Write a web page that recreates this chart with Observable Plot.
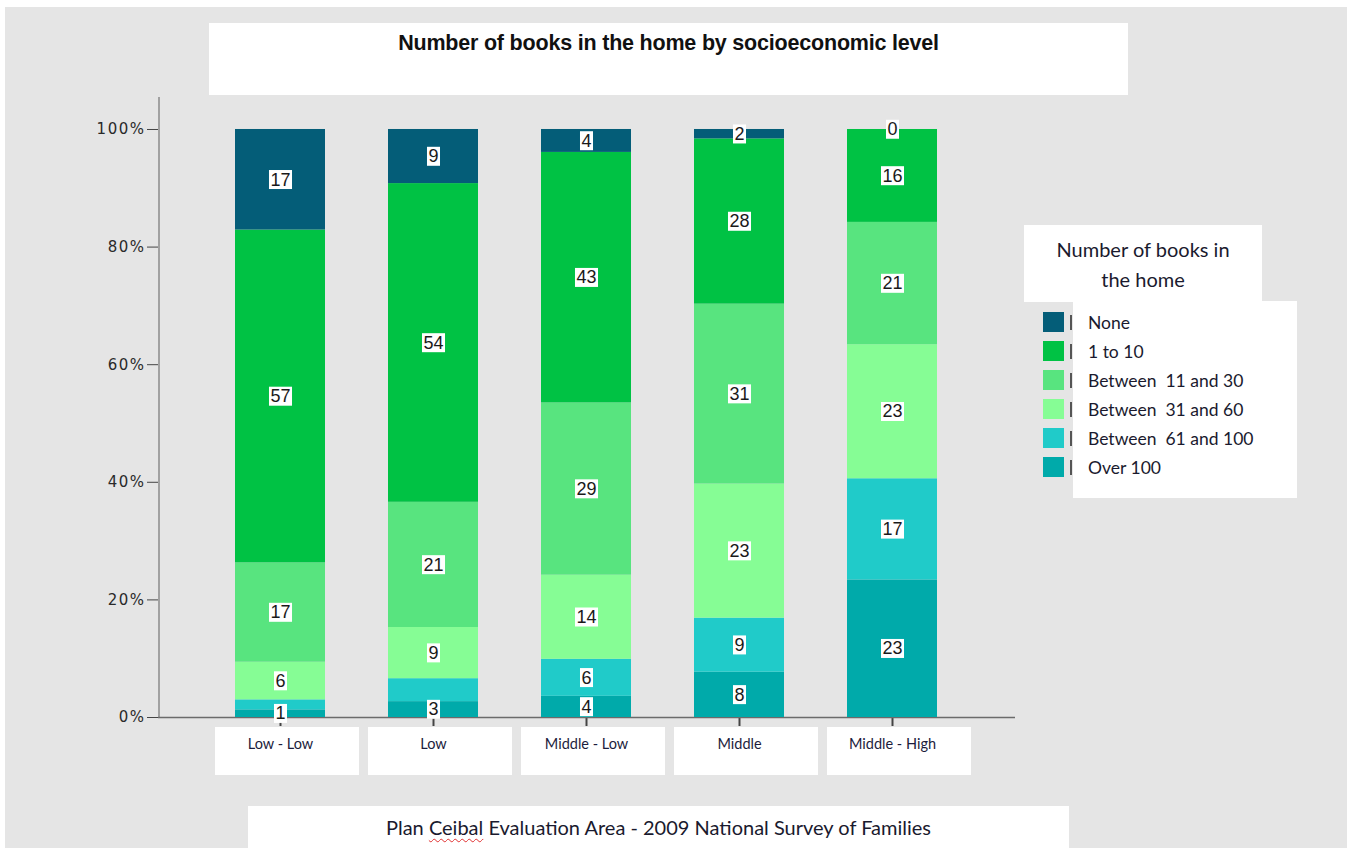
<!DOCTYPE html>
<html><head><meta charset="utf-8">
<script src="https://cdn.jsdelivr.net/npm/d3@7"></script>
<script src="https://cdn.jsdelivr.net/npm/@observablehq/plot@0.6"></script>
<style>
body{margin:0;background:#fff;width:1347px;height:848px;overflow:hidden;position:relative;font-family:Lato,sans-serif}
#bg{position:absolute;left:5px;top:7px;right:0;bottom:0;background:#e5e5e5}
#chart{position:absolute;left:0;top:0}
.box{position:absolute;background:#fff}
#title{left:209px;top:23px;width:919px;height:72px}
#title div{position:absolute;left:0;right:0;top:20px;transform:translateY(-50%);text-align:center;font-weight:bold;font-size:21.5px;font-family:"Liberation Sans",Arial,sans-serif;color:#111;letter-spacing:-0.2px}
#legTitle{left:1024px;top:225px;width:238px;height:77px;text-align:center;font-size:20px;line-height:30px;padding-top:9px;box-sizing:border-box;color:#1a1a2e}
#legItems{left:1073px;top:301px;width:224px;height:197px;padding-top:7px;padding-left:15px;box-sizing:border-box;font-size:17.5px;line-height:29px;color:#1a1a2e;white-space:pre}
.sw{position:absolute;left:1043px;width:21px;height:20px}
.bar{position:absolute;left:1070px;width:2px;height:15px;background:#555}
#caption{left:248px;top:806px;width:821px;height:42px;text-align:center;font-size:20px;line-height:42px;color:#1a1a2e;box-sizing:border-box}
.sq{text-decoration:underline wavy #e03030;text-decoration-thickness:1px;text-underline-offset:3px}
[aria-label="y-axis tick label"]{letter-spacing:1.5px}
</style></head><body>
<div id="bg"></div>
<div id="chart"></div>
<div class="box" id="title"><div>Number of books in the home by socioeconomic level</div></div>
<div class="box" id="legTitle">Number of books in<br>the home</div>
<div class="box" id="legItems"></div>
<div class="box" id="caption">Plan <span class="sq">Ceibal</span> Evaluation Area - 2009 National Survey of Families</div>
<script>
// Categories (socioeconomic level)
const levels = ["Low - Low", "Low", "Middle - Low", "Middle", "Middle - High"];
// Series (number of books in the home), legend order top to bottom
const series = ["None", "1 to 10", "Between  11 and 30", "Between  31 and 60", "Between  61 and 100", "Over 100"];
const colors = ["#045d78", "#00c244", "#58e47f", "#86fd95", "#20cbc9", "#00aaaa"];
// Percentages per level
const none      = [17.1,  9.2,  3.9,  1.6,  0.0];
const oneTo10   = [56.6, 54.2, 42.6, 28.1, 15.8];
const b11to30   = [16.9, 21.3, 29.3, 30.6, 20.8];
const b31to60   = [ 6.4,  8.7, 14.3, 22.8, 22.8];
const b61to100  = [ 1.7,  3.9,  6.3,  9.2, 17.2];
const over100   = [ 1.3,  2.7,  3.6,  7.7, 23.4];
const yTicks = [0, 0.2, 0.4, 0.6, 0.8, 1];

const seriesValues = [none, oneTo10, b11to30, b31to60, b61to100, over100];

// stack from bottom (Over 100) to top (None), normalised to 100%
const rows = [];
const labels = [];
levels.forEach((level, i) => {
  const total = d3.sum(seriesValues, s => s[i]);
  let cum = 0, lastMid = -Infinity;
  for (let k = series.length - 1; k >= 0; k--) {
    const v = seriesValues[k][i] / total;
    const r = {level, series: series[k], value: seriesValues[k][i], y1: cum, y2: cum + v, mid: cum + v / 2};
    rows.push(r);
    if (r.mid - lastMid >= 0.04) { labels.push(r); lastMid = r.mid; }
    cum += v;
  }
});

const chart = Plot.plot({
  width: 1347, height: 848,
  marginLeft: 158, marginRight: 332, marginTop: 97, marginBottom: 131,
  style: {background: "transparent", overflow: "visible"},
  x: {domain: levels, paddingInner: 0.41, paddingOuter: 0.4875},
  y: {domain: [0, 1.0544]},
  color: {domain: series, range: colors},
  marks: [
    Plot.barY(levels, {x: d => d, y1: -0.017, y2: -0.0986, fill: "white", insetLeft: -20, insetRight: -34}),
    Plot.axisX({tickSize: 9, tickFormat: () => "", stroke: "#444", strokeWidth: 2, label: null}),
    Plot.axisY({ticks: yTicks, tickFormat: d3.format(".0%"), tickSize: 11, tickPadding: 2, stroke: "#444", fill: "#2a2a2a",
      fontSize: 15, fontFamily: "DejaVu Sans", label: null}),
    Plot.ruleX([levels[0]], {x: d => d, dx: -121.5, y1: 0, y2: 1.0544, stroke: "#8a8a8a", strokeWidth: 1.5}),
    Plot.ruleY([0], {stroke: "#6b6b6b", strokeWidth: 1.5}),
    Plot.barY(rows, {x: "level", y1: "y1", y2: "y2", fill: "series"}),
    Plot.text(labels, {x: "level", y: "mid", text: d => String(Math.round(d.value)), fontSize: 18,
      fontFamily: "Liberation Sans", fill: "#1a1a1a"}),
    Plot.text(levels, {x: d => d, frameAnchor: "bottom", dy: 31, fontSize: 14.5, fontFamily: "Lato", fill: "#1c1c3c"})
  ]
});
document.getElementById("chart").append(chart);

// white boxes behind the value labels
chart.querySelectorAll('g[aria-label="text"]').forEach(g => {
  if (g.getAttribute("font-size") !== "18") return;
  g.querySelectorAll("text").forEach(t => {
    const b = t.getBBox();
    const r = document.createElementNS("http://www.w3.org/2000/svg", "rect");
    r.setAttribute("x", b.x - 1.5); r.setAttribute("y", b.y + 0.5);
    r.setAttribute("width", b.width + 3); r.setAttribute("height", b.height - 1);
    r.setAttribute("fill", "white");
    if (t.getAttribute("transform")) r.setAttribute("transform", t.getAttribute("transform"));
    g.insertBefore(r, t);
  });
});

// legend
const legItems = document.getElementById("legItems");
legItems.textContent = series.join("\n");
series.forEach((s, k) => {
  const sw = document.createElement("div");
  sw.className = "sw"; sw.style.top = (312 + k * 29) + "px"; sw.style.background = colors[k];
  document.body.append(sw);
  const b = document.createElement("div");
  b.className = "bar"; b.style.top = (315 + k * 29) + "px";
  document.body.append(b);
});
</script>
</body></html>
